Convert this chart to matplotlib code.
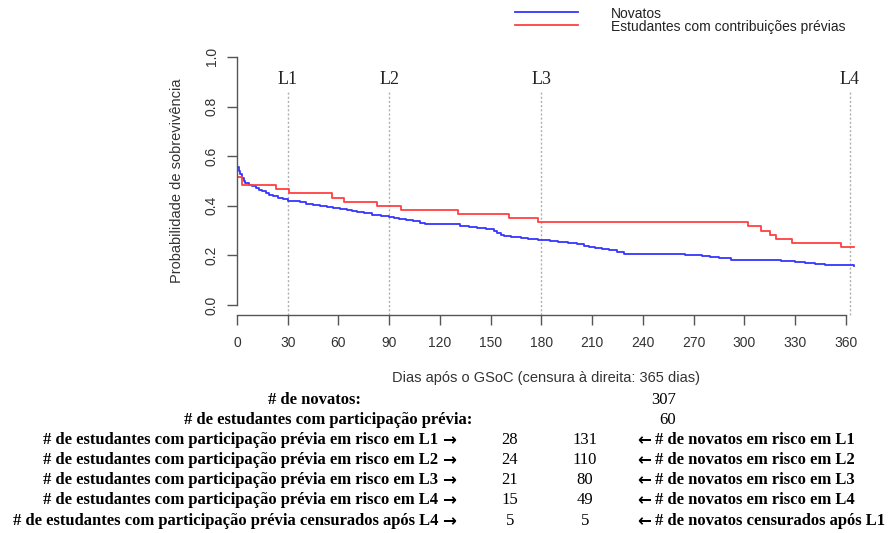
import matplotlib
matplotlib.use("Agg")
import matplotlib.pyplot as plt

# ---------------- data ----------------
blue_t = [0, 1, 2, 3, 4, 5, 7, 9, 11, 13, 15, 17, 19, 21, 24, 27, 30, 37, 41, 45, 49, 53, 57,
          61, 65, 68, 71, 75, 80, 85, 90, 93, 96, 100, 104, 108, 111, 125, 132, 137, 142, 147,
          150, 152, 154, 156, 158, 162, 168, 172, 178, 185, 190, 196, 201, 205, 208, 212, 216,
          220, 225, 229, 254, 265, 275, 280, 285, 292, 322, 330, 336, 342, 348, 352, 365]
blue_s = [0.556, 0.540, 0.527, 0.513, 0.500, 0.490, 0.484, 0.478, 0.471, 0.465, 0.458, 0.450,
          0.445, 0.438, 0.432, 0.426, 0.420, 0.417, 0.408, 0.404, 0.401, 0.397, 0.392, 0.388,
          0.384, 0.378, 0.374, 0.370, 0.365, 0.360, 0.355, 0.350, 0.346, 0.342, 0.337, 0.332,
          0.328, 0.325, 0.318, 0.314, 0.311, 0.308, 0.305, 0.298, 0.290, 0.284, 0.278, 0.275,
          0.272, 0.268, 0.262, 0.260, 0.255, 0.251, 0.246, 0.240, 0.233, 0.228, 0.224, 0.220,
          0.214, 0.207, 0.204, 0.200, 0.196, 0.192, 0.188, 0.181, 0.178, 0.174, 0.170, 0.166,
          0.162, 0.160, 0.157]

red_t = [0, 3, 23, 31, 56, 63, 83, 97, 131, 161, 178, 302, 310, 315, 319, 328, 357, 365]
red_s = [0.517, 0.483, 0.467, 0.450, 0.433, 0.417, 0.400, 0.383, 0.367, 0.350, 0.333,
         0.317, 0.300, 0.283, 0.267, 0.250, 0.233, 0.233]

landmarks = [30, 90, 180, 362.5]
landmark_labels = ["L1", "L2", "L3", "L4"]
xticks = list(range(0, 361, 30))
yticks = [0.0, 0.2, 0.4, 0.6, 0.8, 1.0]
ytick_labels = ["0.0", "0.2", "0.4", "0.6", "0.8", "1.0"]

series_labels = ["Novatos", "Estudantes com contribuições prévias"]

n_novatos = 307
n_previos = 60
risk_rows = ["# de estudantes com participação prévia em risco em L1",
             "# de estudantes com participação prévia em risco em L2",
             "# de estudantes com participação prévia em risco em L3",
             "# de estudantes com participação prévia em risco em L4",
             "# de estudantes com participação prévia censurados após L4"]
risk_prev = [28, 24, 21, 15, 5]
risk_nov = [131, 110, 80, 49, 5]
risk_rows_right = ["# de novatos em risco em L1",
                   "# de novatos em risco em L2",
                   "# de novatos em risco em L3",
                   "# de novatos em risco em L4",
                   "# de novatos censurados após L1"]

# ---------------- figure ----------------
W, H = 890, 533
fig = plt.figure(figsize=(W / 100, H / 100), dpi=100)
def fx(px): return px / W
def fy(py): return 1 - py / H

ax = fig.add_axes([fx(237), fy(315), fx(855) - fx(237), fy(47) - fy(315)])
ax.set_xlim(0, 365.5)
ax.set_ylim(-0.04, 1.04)

blue = "#3535ff"
red = "#ff4040"
ax.step(blue_t, blue_s, where="post", color=blue, lw=1.3, label=series_labels[0])
ax.step(red_t, red_s, where="post", color=red, lw=1.3, label=series_labels[1])

for xv, lab in zip(landmarks, landmark_labels):
    ax.plot([xv, xv], [-0.04, 0.867], color="#b0b0b0", lw=1.0, ls=(0, (1.5, 1.5)), zorder=0,
            clip_on=False)
    ax.text(xv, 0.91, lab, ha="center", va="center", fontsize=13,
            family=["Liberation Serif", "DejaVu Serif"], color="#222222")

for s in ["top", "right"]:
    ax.spines[s].set_visible(False)
ax.spines["left"].set_bounds(0, 1)
ax.spines["bottom"].set_bounds(0, 360)
for s in ["left", "bottom"]:
    ax.spines[s].set_color("#555555")
    ax.spines[s].set_linewidth(1.0)

ax.set_xticks(xticks)
ax.set_xticklabels([str(v) for v in xticks])
ax.set_yticks(yticks)
ax.set_yticklabels(ytick_labels, rotation=90, va="center")
ax.tick_params(axis="both", length=7, width=1.0, color="#555555", labelcolor="#333333",
               labelsize=10)
ax.tick_params(axis="x", pad=8)
ax.tick_params(axis="y", pad=6)
for lbl in ax.get_xticklabels() + ax.get_yticklabels():
    lbl.set_family("Liberation Sans")

ax.set_xlabel("Dias após o GSoC (censura à direita: 365 dias)", fontsize=10.5,
              family="Liberation Sans", color="#333333", labelpad=15.5)
ax.set_ylabel("Probabilidade de sobrevivência", fontsize=10.5,
              family="Liberation Sans", color="#333333", labelpad=15)

# legend (manual, top right)
fig.add_artist(plt.Line2D([fx(515), fx(578)], [fy(12), fy(12)], color=blue, lw=1.3))
fig.add_artist(plt.Line2D([fx(515), fx(578)], [fy(25), fy(25)], color=red, lw=1.3))
fig.text(fx(611), fy(14), series_labels[0], fontsize=10, family="Liberation Sans",
         color="#222222", va="center")
fig.text(fx(611), fy(27), series_labels[1], fontsize=10, family="Liberation Sans",
         color="#222222", va="center")

# risk table
serif = ["Liberation Serif", "DejaVu Serif"]
tfs = 12
fig.text(fx(314), fy(400), "# de novatos:", ha="center", va="center", fontsize=tfs,
         fontweight="bold", family=serif)
fig.text(fx(328), fy(420), "# de estudantes com participação prévia:", ha="center",
         va="center", fontsize=tfs, fontweight="bold", family=serif)
fig.text(fx(664), fy(400), str(n_novatos), ha="center", va="center", fontsize=tfs, family=serif)
fig.text(fx(668), fy(420), str(n_previos), ha="center", va="center", fontsize=tfs, family=serif)
row_y = [440, 460, 480, 500, 521]
for yy, l, a, b, r in zip(row_y, risk_rows, risk_prev, risk_nov, risk_rows_right):
    fig.text(fx(438), fy(yy), l, ha="right", va="center", fontsize=tfs, fontweight="bold",
             family=serif)
    fig.text(fx(449), fy(yy), "\u2192", ha="center", va="center", fontsize=12,
             fontweight="bold", family="DejaVu Sans")
    fig.text(fx(510), fy(yy), str(a), ha="center", va="center", fontsize=tfs, family=serif)
    fig.text(fx(585), fy(yy), str(b), ha="center", va="center", fontsize=tfs, family=serif)
    fig.text(fx(644), fy(yy), "\u2190", ha="center", va="center", fontsize=12,
             fontweight="bold", family="DejaVu Sans")
    fig.text(fx(655), fy(yy), r, ha="left", va="center", fontsize=tfs, fontweight="bold",
             family=serif)

fig.savefig("out.png", dpi=100)
